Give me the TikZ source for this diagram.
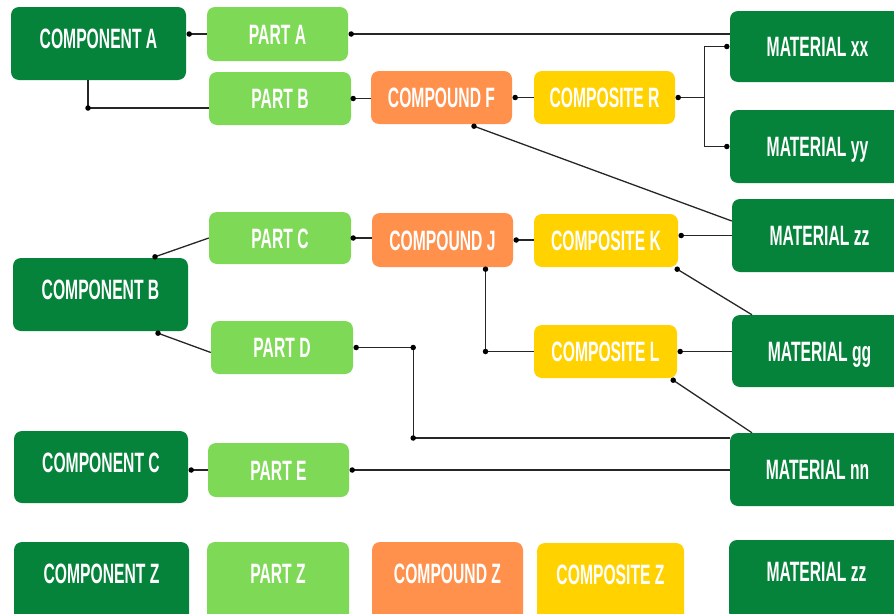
\documentclass[tikz,border=0pt]{standalone}
\usepackage{fontspec}
\newfontfamily\lab[FakeStretch=0.56]{Liberation Sans}
\definecolor{dkg}{HTML}{05833A}
\definecolor{ltg}{HTML}{7ED957}
\definecolor{org}{HTML}{FF914D}
\definecolor{ylw}{HTML}{FFD200}
\tikzset{
  box/.style={rounded corners=8pt, inner sep=0pt, text=white,
    font=\lab\bfseries\fontsize{28}{30}\selectfont, text height=20.5pt, text depth=0pt},
  comp/.style={box, fill=dkg, text depth=10pt},
  mat/.style={box, fill=dkg},
  part/.style={box, fill=ltg},
  cpd/.style={box, fill=org},
  cps/.style={box, fill=ylw},
  cutrow/.style={text depth=18pt},
  cn/.style={draw=black!85, line width=1.3pt},
  dotn/.style={circle, fill=black, inner sep=0pt, minimum size=5.5pt}
}
\begin{document}
\begin{tikzpicture}[x=1pt,y=-1pt]
\useasboundingbox (0,0) rectangle (894,613);
\clip (0,0) rectangle (894,613);
% nodes
\node[comp, minimum width=175pt, minimum height=73pt] (ca) at (98.5,43.5) {COMPONENT A};
\node[part, minimum width=141pt, minimum height=54pt] (pa) at (277.5,34) {PART A};
\node[part, minimum width=142pt, minimum height=53pt] (pb) at (280,98.5) {PART B};
\node[cpd, minimum width=141pt, minimum height=53pt] (cf) at (441.5,97.5) {COMPOUND F};
\node[cps, minimum width=141pt, minimum height=53pt] (cr) at (604.5,97.5) {COMPOSITE R};
\node[mat, minimum width=175pt, minimum height=71pt] (mxx) at (817.5,46.5) {MATERIAL xx};
\node[mat, minimum width=175pt, minimum height=73pt] (myy) at (817.5,146.5) {MATERIAL yy};
\node[mat, minimum width=175pt, minimum height=73pt] (mzz) at (819.5,235.5) {MATERIAL zz};
\node[part, minimum width=142pt, minimum height=52pt] (pc) at (280,238) {PART C};
\node[cpd, minimum width=141pt, minimum height=54pt] (cj) at (442.5,240) {COMPOUND J};
\node[cps, minimum width=144pt, minimum height=53pt] (ck) at (606,240.5) {COMPOSITE K};
\node[comp, minimum width=175pt, minimum height=73pt] (cb) at (100.5,294.5) {COMPONENT B};
\node[part, minimum width=142pt, minimum height=53pt] (pd) at (282,347.5) {PART D};
\node[cps, minimum width=143pt, minimum height=53pt] (cl) at (605.5,351.5) {COMPOSITE L};
\node[mat, minimum width=175pt, minimum height=72pt] (mgg) at (819.5,351) {MATERIAL gg};
\node[comp, minimum width=174pt, minimum height=72pt] (cc) at (101,467) {COMPONENT C};
\node[part, minimum width=141pt, minimum height=54pt] (pe) at (278.5,470) {PART E};
\node[mat, minimum width=175pt, minimum height=73pt] (mnn) at (817.5,469.5) {MATERIAL nn};
\node[comp, cutrow, minimum width=175pt, minimum height=80pt] (cz) at (101.5,582) {COMPONENT Z};
\node[part, cutrow, minimum width=142pt, minimum height=80pt] (pz) at (278,582) {PART Z};
\node[cpd, cutrow, minimum width=151pt, minimum height=80pt] (coz) at (447.5,582) {COMPOUND Z};
\node[cps, cutrow, minimum width=147pt, minimum height=80pt] (csz) at (610.5,583) {COMPOSITE Z};
\node[mat, cutrow, minimum width=175pt, minimum height=80pt] (mz2) at (816.5,580) {MATERIAL zz};
% connectors
\draw[cn] ([xshift=3pt]pa.west -| ca.east) -- node[pos=0, dotn]{} (pa.west);
\draw[cn] ([xshift=3pt]pa.east) -- node[pos=0, dotn]{} (pa.east -| mxx.west);
\draw[cn] ([xshift=-10.5pt]ca.south) |- node[pos=.5, dotn]{} ([yshift=-9.5pt]pb.west);
\draw[cn] ([xshift=2pt]pb.east) -- node[pos=0, dotn]{} (pb.east -| cf.west);
\draw[cn] ([xshift=3pt]cf.east) -- node[pos=0, dotn]{} (cf.east -| cr.west);
\coordinate (rj) at ([xshift=29pt]cr.east);
\draw[cn] ([xshift=3pt]cr.east) -- node[pos=0, dotn]{} (rj);
\draw[cn] (rj) |- ([xshift=-3pt]mxx.west) node[dotn]{};
\draw[cn] (rj) |- ([xshift=-3pt]myy.west) node[dotn]{};
\draw[cn] ([xshift=32.5pt,yshift=-2pt]cf.south) -- node[pos=0, dotn]{} ([yshift=14.5pt]mzz.west);
\draw[cn] ([xshift=2pt]pc.east) -- node[pos=0, dotn]{} (pc.east -| cj.west);
\draw[cn] (pc.west) -- ([xshift=54.5pt,yshift=1pt]cb.north) node[dotn]{};
\draw[cn] ([yshift=-5pt]pd.west) -- ([xshift=57.5pt,yshift=-2pt]cb.south) node[dotn]{};
\coordinate (dj) at ([xshift=60pt]pd.east);
\draw[cn] ([xshift=3pt]pd.east) -- node[pos=0, dotn]{} (dj) node[dotn]{} |- node[pos=.5, dotn]{} ([yshift=31.5pt]mnn.west);
\draw[cn] ([xshift=3pt]cj.east) -- node[pos=0, dotn]{} (cj.east -| ck.west);
\draw[cn] ([xshift=3pt]ck.east |- mzz.west) -- node[pos=0, dotn]{} (mzz.west);
\draw[cn] ([xshift=43pt,yshift=-2pt]cj.south) |- node[pos=0, dotn]{} node[pos=.5, dotn]{} (cl.west);
\draw[cn] ([xshift=-1pt,yshift=-2pt]ck.south east) -- node[pos=0, dotn]{} ([xshift=-67.5pt]mgg.north);
\draw[cn] ([xshift=3pt]cl.east) -- node[pos=0, dotn]{} (cl.east -| mgg.west);
\draw[cn] ([xshift=-4pt,yshift=-2pt]cl.south east) -- node[pos=0, dotn]{} ([xshift=-65.5pt]mnn.north);
\draw[cn] ([xshift=3pt]pe.west -| cc.east) -- node[pos=0, dotn]{} (pe.west);
\draw[cn] ([xshift=3pt]pe.east) -- node[pos=0, dotn]{} (pe.east -| mnn.west);
\end{tikzpicture}
\end{document}
